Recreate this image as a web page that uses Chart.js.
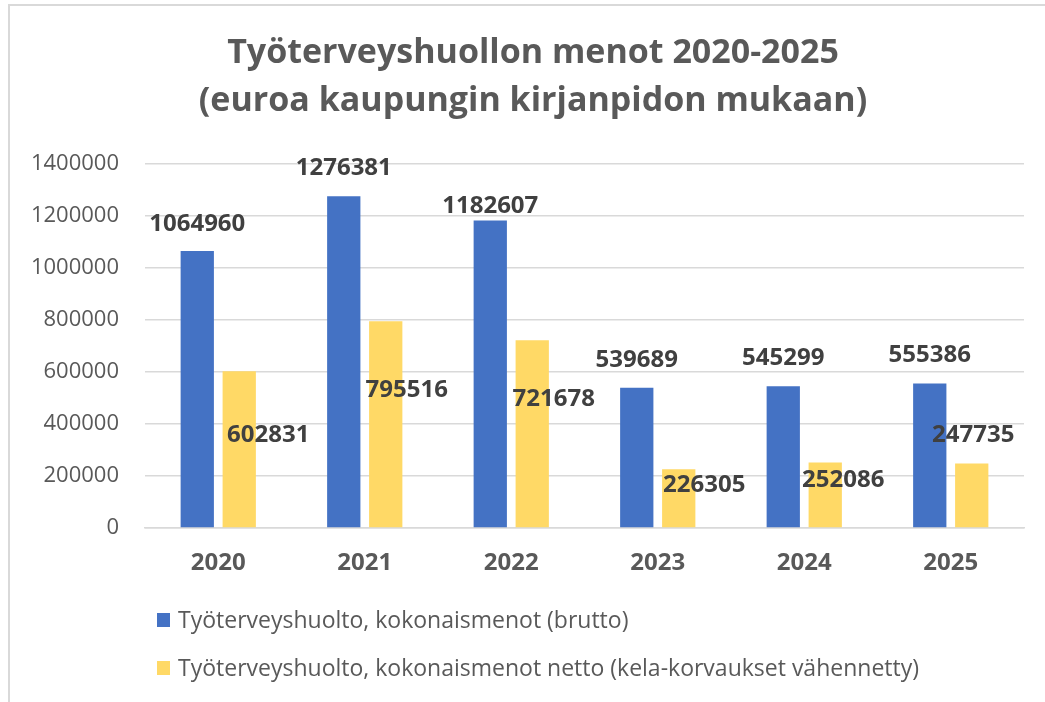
<!DOCTYPE html>
<html>
<head>
<meta charset="utf-8">
<script src="https://cdn.jsdelivr.net/npm/chart.js@4.4.1/dist/chart.umd.min.js"></script>
<style>
  html, body { margin: 0; padding: 0; background: #ffffff; }
  #wrap { position: relative; width: 1045px; height: 702px; overflow: hidden; }
  #frame { position: absolute; left: 8px; top: 4px; width: 1100px; height: 800px;
           border-top: 2px solid #d9d9d9; border-left: 2px solid #d9d9d9; box-sizing: border-box; }
  canvas { position: absolute; left: 0; top: 0; }
</style>
</head>
<body>
<div id="wrap">
  <div id="frame"></div>
  <canvas id="c" width="1045" height="702"></canvas>
</div>
<script>
// ---- data ----
const categories = ['2020', '2021', '2022', '2023', '2024', '2025'];
const seriesNames = [
  'Työterveyshuolto, kokonaismenot (brutto)',
  'Työterveyshuolto, kokonaismenot netto (kela-korvaukset vähennetty)'
];
const bruttoValues = [1064960, 1276381, 1182607, 539689, 545299, 555386];
const nettoValues = [602831, 795516, 721678, 226305, 252086, 247735];
const yTickValues = [0, 200000, 400000, 600000, 800000, 1000000, 1200000, 1400000];
const titleLines = ['Työterveyshuollon menot 2020-2025', '(euroa kaupungin kirjanpidon mukaan)'];

// ---- styling (label placement offsets relative to bar top, px) ----
const bruttoLabelOffsets = [[0, -27], [0, -27.5], [0, -14.5], [0, -28], [0, -28], [0, -28]];
const nettoLabelOffsets = [[29, 64], [21, 69], [21.5, 59], [25.5, 15.5], [18, 17.5], [1.5, -28]];
const colors = ['#4472C4', '#FFD966'];
const FONT = "'Open Sans', 'DejaVu Sans', sans-serif";

const titlePlugin = {
  id: 'titleText',
  afterDraw(chart) {
    const ctx = chart.ctx;
    ctx.save();
    ctx.font = 'bold 34px ' + FONT;
    ctx.fillStyle = '#595959';
    ctx.textAlign = 'center';
    ctx.textBaseline = 'alphabetic';
    titleLines.forEach((line, i) => ctx.fillText(line, 533, 63 + i * 48));
    ctx.restore();
  }
};

const dataLabelPlugin = {
  id: 'dataLabels',
  afterDatasetsDraw(chart) {
    const ctx = chart.ctx;
    const offsets = [bruttoLabelOffsets, nettoLabelOffsets];
    ctx.save();
    ctx.font = 'bold 24px ' + FONT;
    ctx.fillStyle = '#404040';
    ctx.textAlign = 'center';
    ctx.textBaseline = 'middle';
    chart.data.datasets.forEach((ds, di) => {
      const meta = chart.getDatasetMeta(di);
      meta.data.forEach((bar, i) => {
        const off = offsets[di][i];
        ctx.fillText(String(ds.data[i]), bar.x + off[0], bar.y + off[1]);
      });
    });
    ctx.restore();
  }
};

const customLegendPlugin = {
  id: 'customLegend',
  afterDraw(chart) {
    const ctx = chart.ctx;
    ctx.save();
    ctx.font = '23px ' + FONT;
    ctx.textAlign = 'left';
    ctx.textBaseline = 'alphabetic';
    chart.data.datasets.forEach((ds, di) => {
      const baseY = 628 + di * 48;
      ctx.fillStyle = ds.backgroundColor;
      ctx.fillRect(157, baseY - 15, 13, 14);
      ctx.fillStyle = '#595959';
      ctx.fillText(ds.label, 178, baseY);
    });
    ctx.restore();
  }
};

function build() {
  new Chart(document.getElementById('c'), {
    type: 'bar',
    data: {
      labels: categories,
      datasets: [
        { label: seriesNames[0], data: bruttoValues, backgroundColor: colors[0], borderWidth: 0,
          categoryPercentage: 0.573, barPercentage: 0.793 },
        { label: seriesNames[1], data: nettoValues, backgroundColor: colors[1], borderWidth: 0,
          categoryPercentage: 0.573, barPercentage: 0.793 }
      ]
    },
    options: {
      responsive: false,
      animation: false,
      layout: { padding: { left: 0, right: 21, top: 164, bottom: 114 } },
      plugins: {
        legend: { display: false },
        tooltip: { enabled: false },
        title: { display: false }
      },
      scales: {
        x: {
          grid: { display: false, drawTicks: false },
          border: { display: true, color: '#d9d9d9', width: 1.5 },
          ticks: { color: '#595959', font: { family: FONT, size: 24, weight: 'bold' }, padding: 21 },
          afterFit(scale) { scale.height = 60; }
        },
        y: {
          min: 0,
          max: 1400000,
          grid: { color: '#d9d9d9', lineWidth: 1.5, drawTicks: false },
          border: { display: false },
          afterBuildTicks(scale) { scale.ticks = yTickValues.map(v => ({ value: v })); },
          ticks: {
            color: '#595959',
            font: { family: FONT, size: 22 },
            padding: 26,
            callback: (v) => String(v)
          },
          afterFit(scale) { scale.width = 145; }
        }
      }
    },
    plugins: [dataLabelPlugin, customLegendPlugin, titlePlugin]
  });
}

const fontLoads = [
  document.fonts.load("bold 34px 'Open Sans'"),
  document.fonts.load("22px 'Open Sans'")
];
Promise.all(fontLoads).then(build, build);
</script>
</body>
</html>
